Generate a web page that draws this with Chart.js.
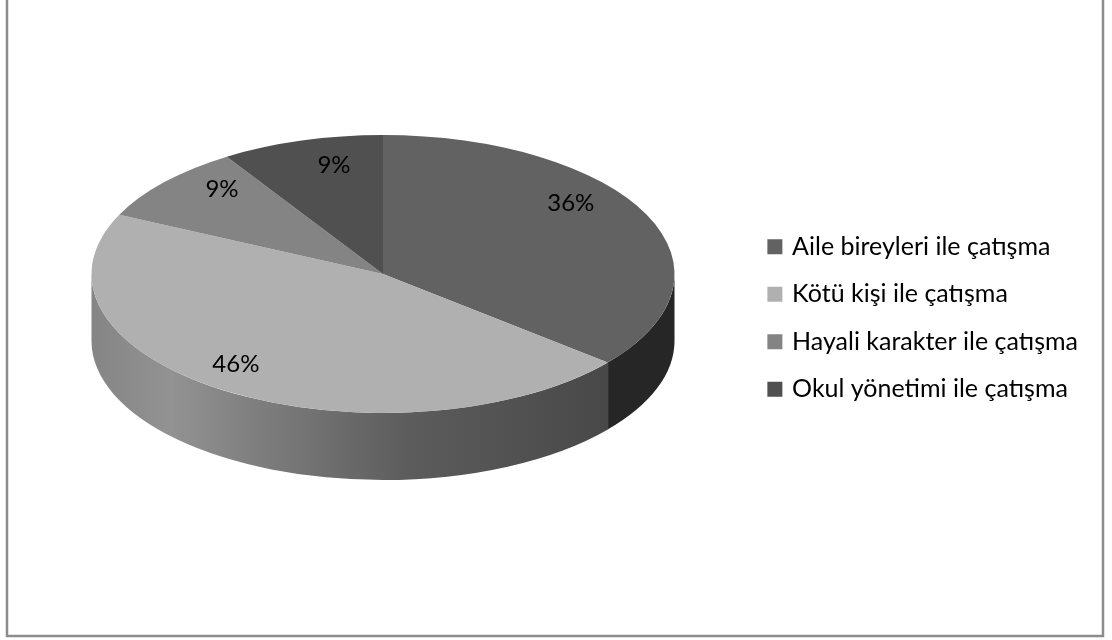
<!DOCTYPE html>
<html>
<head>
<meta charset="utf-8">
<style>
  html, body { margin: 0; padding: 0; background: #fff; }
  canvas { display: block; }
</style>
<script src="https://cdn.jsdelivr.net/npm/chart.js@4"></script>
</head>
<body>
<canvas id="chart" width="1112" height="640"></canvas>
<script>
const categories = [
  "Aile bireyleri ile çatışma",
  "Kötü kişi ile çatışma",
  "Hayali karakter ile çatışma",
  "Okul yönetimi ile çatışma",
];
const percents = [36, 46, 9, 9];

const topColors = ["#626262", "#b0b0b0", "#848484", "#505050"];
const wallStops = [
  [[0, "#262626"], [1, "#262626"]],
  [[0, "#858585"], [0.15, "#929292"], [0.6, "#5c5c5c"], [1, "#474747"]],
  [[0, "#5c5c5c"], [1, "#5c5c5c"]],
  [[0, "#383838"], [1, "#383838"]],
];
// nudges from the slice's mid-radius, the original places labels by hand
const labelNudges = [[-10, -26], [-30, 2], [3, -16], [12, -9]];

// where the tilted pie sits on the page
const pieX = 383;
const pieY = 274;
const pieRx = 291.5;
const pieRy = 139;
const pieDepth = 67;

const tiltedPie = {
  id: "tiltedPie",
  beforeDraw(chart) {
    const ctx = chart.ctx;
    ctx.save();
    ctx.strokeStyle = "#8c8c8c";
    ctx.lineWidth = 2.5;
    ctx.strokeRect(7, -10, 1096, 646);
    ctx.restore();
  },
  beforeDatasetsDraw(chart) {
    const ctx = chart.ctx;
    const arcs = chart.getDatasetMeta(0).data;
    // side wall, only the front half of the rim shows
    arcs.forEach((arc, i) => {
      let from = Math.max(arc.startAngle, 0);
      const to = Math.min(arc.endAngle, Math.PI);
      if (to <= from) return;
      if (from > 0) from -= 0.004; // overlap so no white seam shows
      const grad = ctx.createLinearGradient(pieX - pieRx, 0, pieX + 237, 0);
      wallStops[i].forEach(([at, color]) => grad.addColorStop(at, color));
      ctx.beginPath();
      ctx.ellipse(pieX, pieY, pieRx, pieRy, 0, from, to);
      ctx.ellipse(pieX, pieY + pieDepth, pieRx, pieRy, 0, to, from, true);
      ctx.closePath();
      ctx.fillStyle = grad;
      ctx.fill();
    });
    const first = arcs[0];
    ctx.save();
    ctx.translate(pieX, pieY);
    ctx.scale(pieRx / first.outerRadius, pieRy / first.outerRadius);
    ctx.translate(-first.x, -first.y);
  },
  afterDatasetsDraw(chart) {
    const ctx = chart.ctx;
    ctx.restore();
    ctx.save();
    ctx.font = "24px Lato";
    ctx.fillStyle = "#000";
    ctx.textAlign = "center";
    ctx.textBaseline = "middle";
    chart.getDatasetMeta(0).data.forEach((arc, i) => {
      const mid = (arc.startAngle + arc.endAngle) / 2;
      const x = pieX + pieRx * 0.75 * Math.cos(mid) + labelNudges[i][0];
      const y = pieY + pieRy * 0.75 * Math.sin(mid) + labelNudges[i][1];
      ctx.fillText(percents[i] + "%", x, y);
    });
    ctx.restore();
  },
};

new Chart(document.getElementById("chart"), {
  type: "pie",
  data: {
    labels: categories,
    datasets: [{ data: percents, backgroundColor: topColors, borderWidth: 0 }],
  },
  options: {
    responsive: false,
    animation: false,
    layout: { padding: { left: 10, right: 24, top: 0, bottom: 4 } },
    plugins: {
      tooltip: { enabled: false },
      legend: {
        position: "right",
        labels: {
          boxWidth: 9.5,
          boxHeight: 9.5,
          padding: 22.5,
          color: "#000",
          font: { family: "Lato", size: 25 },
          generateLabels(chart) {
            return categories.map((name, i) => ({
              text: name,
              fillStyle: topColors[i],
              strokeStyle: topColors[i],
              lineWidth: 5.5,
              index: i,
            }));
          },
        },
      },
    },
  },
  plugins: [tiltedPie],
});
</script>
</body>
</html>
